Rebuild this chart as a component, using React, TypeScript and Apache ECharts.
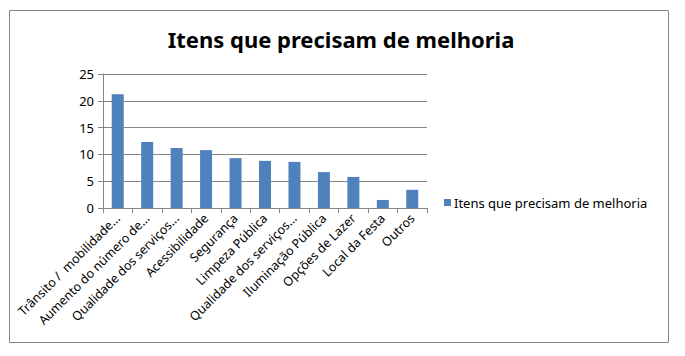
import React, { useEffect, useRef } from "react";
import * as echarts from "echarts";

const categories = [
  "Trânsito /  mobilidade...",
  "Aumento do número de...",
  "Qualidade dos serviços...",
  "Acessibilidade",
  "Segurança",
  "Limpeza Pública",
  "Qualidade dos serviços...",
  "Iluminação Pública",
  "Opções de Lazer",
  "Local da Festa",
  "Outros",
];
const values = [21.2, 12.3, 11.2, 10.8, 9.3, 8.8, 8.6, 6.7, 5.8, 1.5, 3.4];
const seriesName = "Itens que precisam de melhoria";
const titleText = "Itens que precisam de melhoria";

export default function App() {
  const ref = useRef<HTMLDivElement>(null);
  useEffect(() => {
    if (!ref.current) return;
    const chart = echarts.init(ref.current, null, { renderer: "svg" });
    const font = "Noto Sans";
    chart.setOption({
      animation: false,
      textStyle: { fontFamily: font },
      title: {
        text: titleText,
        left: 336,
        textAlign: "center",
        top: 23,
        textStyle: { fontFamily: font, fontSize: 22, fontWeight: "bold", color: "#000" },
      },
      graphic: [
        {
          type: "rect",
          shape: { x: 9.5, y: 10.5, width: 659, height: 332 },
          style: { fill: "none", stroke: "#868686", lineWidth: 1 },
          silent: true,
        },
      ],
      legend: {
        left: 439,
        top: 191,
        icon: "rect",
        itemWidth: 7,
        itemHeight: 7,
        itemGap: 4,
        textStyle: { fontFamily: font, fontSize: 13, color: "#000", padding: [0, 0, 0, -2] },
        data: [seriesName],
      },
      grid: { left: 103, right: 258, top: 74, bottom: 148, containLabel: false },
      xAxis: {
        type: "category",
        data: categories,
        boundaryGap: true,
        axisLine: { show: true, lineStyle: { color: "#868686" } },
        axisTick: { show: true, length: 5, alignWithLabel: false, lineStyle: { color: "#868686" } },
        axisLabel: {
          rotate: 45,
          interval: 0,
          fontFamily: font,
          fontSize: 12.5,
          color: "#000",
          margin: 8,
        },
      },
      yAxis: {
        type: "value",
        min: 0,
        max: 25,
        interval: 5,
        axisLine: { show: true, lineStyle: { color: "#868686" } },
        axisTick: { show: true, length: 5, lineStyle: { color: "#868686" } },
        splitLine: { show: true, lineStyle: { color: "#868686" } },
        axisLabel: { fontFamily: font, fontSize: 13, color: "#000", margin: 9 },
      },
      series: [
        {
          name: seriesName,
          type: "bar",
          data: values,
          barWidth: 12,
          itemStyle: { color: "#4F81BD" },
        },
      ],
    });
    return () => chart.dispose();
  }, []);
  return <div ref={ref} style={{ width: 685, height: 356, position: "absolute", left: 0, top: 0 }} />;
}
